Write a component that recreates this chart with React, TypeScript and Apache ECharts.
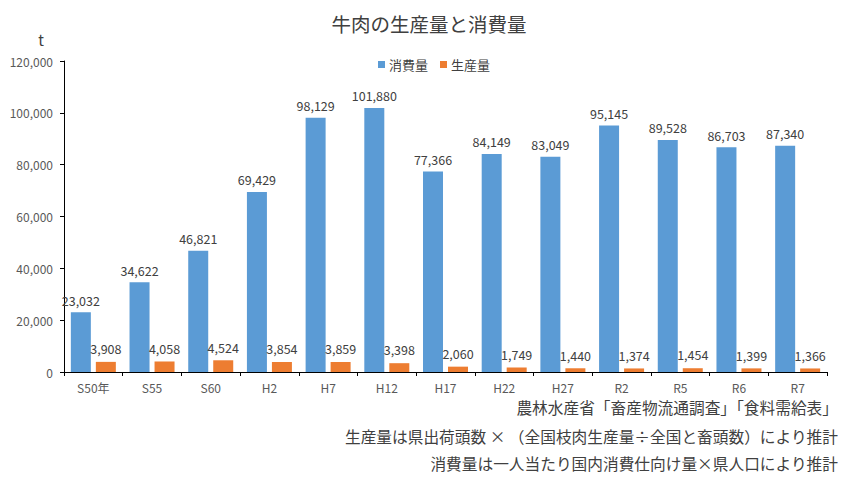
import React, { useEffect, useRef } from "react";
import * as echarts from "echarts";

const categories = ["S50年", "S55", "S60", "H2", "H7", "H12", "H17", "H22", "H27", "R2", "R5", "R6", "R7"];
const consumption = [23032, 34622, 46821, 69429, 98129, 101880, 77366, 84149, 83049, 95145, 89528, 86703, 87340];
const production = [3908, 4058, 4524, 3854, 3859, 3398, 2060, 1749, 1440, 1374, 1454, 1399, 1366];
const title = "牛肉の生産量と消費量";
const unitLabel = "t";
const notes = [
  "農林水産省「畜産物流通調査」「食料需給表」",
  "生産量は県出荷頭数 × （全国枝肉生産量÷全国と畜頭数）により推計",
  "消費量は一人当たり国内消費仕向け量×県人口により推計",
];
const noteY = [407, 436, 463];

const FONT = '"Noto Sans CJK JP", "Noto Sans", sans-serif';

export default function App() {
  const ref = useRef<HTMLDivElement>(null);
  useEffect(() => {
    document.body.style.margin = "0";
    const chart = echarts.init(ref.current!, null, { renderer: "svg" });
    const fmt = (v: number) => v.toLocaleString("en-US");
    chart.setOption({
      animation: false,
      backgroundColor: "#ffffff",
      textStyle: { fontFamily: FONT },
      title: {
        text: title,
        left: "center",
        top: 9,
        textStyle: { fontFamily: FONT, fontSize: 19.5, fontWeight: "normal", color: "#404040" },
      },
      legend: {
        data: ["消費量", "生産量"],
        top: 53,
        left: 373,
        itemWidth: 7,
        itemHeight: 7,
        itemGap: 12,
        icon: "rect",
        textStyle: { fontFamily: FONT, fontSize: 13, color: "#404040", padding: [0, 0, 0, -1] },
      },
      grid: { left: 64, right: 31, top: 61, bottom: 105, containLabel: false },
      xAxis: {
        type: "category",
        data: categories,
        axisLine: { lineStyle: { color: "#000000", width: 1 } },
        axisTick: { show: true, interval: 0, alignWithLabel: false, length: 4, lineStyle: { color: "#000000" } },
        axisLabel: { fontFamily: FONT, fontSize: 12, color: "#595959", margin: 9, interval: 0 },
      },
      yAxis: {
        type: "value",
        min: 0,
        max: 120000,
        interval: 20000,
        name: unitLabel,
        nameLocation: "end",
        nameGap: 14,
        nameTextStyle: { fontFamily: FONT, fontSize: 15, color: "#404040", align: "right", padding: [0, 20, 0, 0] },
        axisLine: { show: true, lineStyle: { color: "#000000", width: 1 } },
        axisTick: { show: true, length: 4, lineStyle: { color: "#000000" } },
        splitLine: { show: false },
        axisLabel: { fontFamily: FONT, fontSize: 12, color: "#595959", margin: 11, formatter: (v: number) => fmt(v) },
      },
      series: [
        {
          name: "消費量",
          type: "bar",
          data: consumption,
          barWidth: 20,
          barGap: "25%",
          itemStyle: { color: "#5B9BD5" },
          label: {
            show: true,
            position: "top",
            distance: 6,
            fontFamily: FONT,
            fontSize: 12.5,
            color: "#404040",
            formatter: (p: any) => fmt(p.value),
          },
        },
        {
          name: "生産量",
          type: "bar",
          data: production,
          barWidth: 20,
          itemStyle: { color: "#ED7D31" },
          label: {
            show: true,
            position: "top",
            distance: 7,
            fontFamily: FONT,
            fontSize: 12.5,
            color: "#404040",
            formatter: (p: any) => fmt(p.value),
          },
        },
      ],
      graphic: notes.map((t, i) => ({
        type: "text",
        x: 838,
        y: noteY[i],
        style: {
          text: t,
          fontFamily: FONT,
          fontSize: 15.7,
          fill: "#404040",
          align: "right",
          verticalAlign: "middle",
          textAlign: "right",
          textVerticalAlign: "middle",
        },
      })),
    });
    return () => chart.dispose();
  }, []);
  return <div ref={ref} style={{ width: 858, height: 477 }} />;
}
